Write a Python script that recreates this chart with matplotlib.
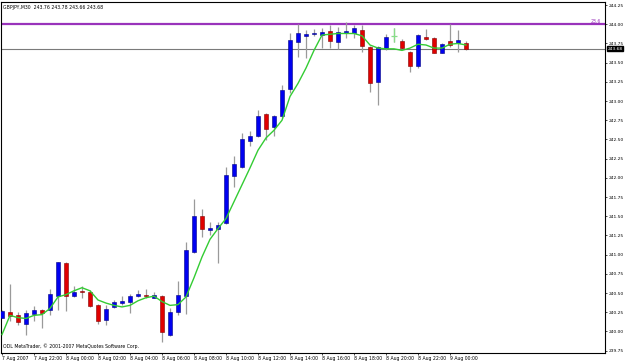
import matplotlib
matplotlib.use("Agg")
from matplotlib import pyplot as plt
from matplotlib.transforms import blended_transform_factory

# GBPJPY M30, 7 Aug 2007 20:00 onwards (one bar every 30 min)
opens = [240.18, 240.26, 240.22, 240.10, 240.23, 240.28, 240.28, 240.46, 240.89, 240.46,
         240.53, 240.51, 240.35, 240.15, 240.32, 240.37, 240.39, 240.46, 240.48, 240.44,
         240.46, 239.96, 240.25, 240.46, 241.03, 241.51, 241.32, 241.34, 241.41, 242.03,
         242.14, 242.48, 242.55, 242.83, 242.66, 242.80, 243.16, 243.77, 243.85, 243.87,
         243.86, 243.91, 243.77, 243.88, 243.88, 243.93, 243.70, 243.25, 243.69, 243.85,
         243.78, 243.64, 243.46, 243.84, 243.82, 243.63, 243.78, 243.75, 243.76]
highs = [240.28, 240.62, 240.25, 240.28, 240.33, 240.29, 240.55, 240.91, 240.90, 240.59,
         240.59, 240.54, 240.36, 240.35, 240.41, 240.46, 240.49, 240.54, 240.55, 240.52,
         240.48, 240.31, 240.66, 241.16, 241.72, 241.59, 241.43, 241.43, 242.14, 242.28,
         242.59, 242.61, 242.89, 242.84, 242.82, 243.21, 243.88, 244.00, 243.92, 243.94,
         243.95, 243.99, 243.96, 244.03, 243.99, 243.99, 243.72, 243.72, 243.87, 243.95,
         243.81, 243.65, 243.87, 243.94, 243.83, 243.76, 244.01, 243.92, 243.78]
lows = [240.17, 240.14, 240.08, 239.96, 240.14, 240.04, 240.22, 240.28, 240.27, 240.45,
        240.43, 240.32, 240.10, 240.09, 240.30, 240.34, 240.24, 240.45, 240.44, 240.43,
        239.86, 239.94, 240.22, 240.23, 241.02, 241.23, 241.25, 240.89, 241.40, 241.88,
        242.13, 242.41, 242.53, 242.49, 242.55, 242.78, 243.11, 243.57, 243.56, 243.85,
        243.69, 243.69, 243.68, 243.82, 243.82, 243.64, 243.12, 242.95, 243.66, 243.77,
        243.68, 243.38, 243.43, 243.79, 243.62, 243.62, 243.70, 243.64, 243.66]
closes = [240.27, 240.20, 240.13, 240.24, 240.28, 240.24, 240.49, 240.90, 240.46, 240.51,
          240.51, 240.33, 240.14, 240.29, 240.39, 240.40, 240.46, 240.49, 240.46, 240.48,
          239.99, 240.26, 240.48, 241.06, 241.51, 241.33, 241.35, 241.39, 242.04, 242.18,
          242.50, 242.54, 242.80, 242.64, 242.81, 243.14, 243.79, 243.88, 243.87, 243.88,
          243.90, 243.78, 243.90, 243.91, 243.95, 243.72, 243.24, 243.70, 243.83, 243.85,
          243.69, 243.46, 243.86, 243.81, 243.63, 243.74, 243.73, 243.79, 243.68]
# moving average as drawn on the chart
ma = [239.96, 240.21, 240.18, 240.17, 240.21, 240.22, 240.30, 240.45, 240.48, 240.53,
      240.57, 240.53, 240.41, 240.37, 240.34, 240.32, 240.34, 240.40, 240.44, 240.46,
      240.39, 240.34, 240.35, 240.45, 240.70, 240.97, 241.20, 241.34, 241.47, 241.69,
      241.91, 242.13, 242.36, 242.52, 242.62, 242.75, 243.06, 243.23, 243.43, 243.66,
      243.86, 243.87, 243.88, 243.88, 243.88, 243.85, 243.73, 243.69, 243.68, 243.68,
      243.66, 243.69, 243.74, 243.73, 243.69, 243.69, 243.74, 243.75, 243.73]

time_labels = ["7 Aug 2007", "7 Aug 22:00", "8 Aug 00:00", "8 Aug 02:00", "8 Aug 04:00",
               "8 Aug 06:00", "8 Aug 08:00", "8 Aug 10:00", "8 Aug 12:00", "8 Aug 14:00",
               "8 Aug 16:00", "8 Aug 18:00", "8 Aug 20:00", "8 Aug 22:00", "9 Aug 00:00"]
price_ticks = [239.75 + 0.25 * k for k in range(19)]
fib_level = 244.00
fib_text = "23.6"
bid = 243.68
title = "GBPJPY,M30  243.76 243.78 243.66 243.68"
footer = "ODL MetaTrader, \u00a9 2001-2007 MetaQuotes Software Corp."

UP, DOWN, WICK = "#0000f0", "#e00000", "#9a9a9a"

W, H = 625, 363
fig = plt.figure(figsize=(W / 100, H / 100), dpi=100, facecolor="white")
ax = fig.add_axes([1 / W, 10 / H, 604 / W, 351 / H])

n = len(closes)
xs = list(range(n))

ax.axhline(bid, color="#7a7a7a", lw=0.8, zorder=1)
ax.axhline(fib_level, color="#9933bb", lw=1.6, zorder=1)

ax.vlines(xs, lows, highs, color=WICK, lw=0.9, zorder=2)
for i in xs:
    o, c = opens[i], closes[i]
    if o == c:
        ax.vlines(i, lows[i], highs[i], color="#88dd88", lw=0.9, zorder=3)
        ax.hlines(c, i - 0.35, i + 0.35, color="#88dd88", lw=0.9, zorder=3)
        continue
    col = UP if c > o else DOWN
    edge = "#000080" if c > o else "#800000"
    ax.bar(i, abs(c - o), bottom=min(o, c), width=0.6, color=col,
           edgecolor=edge, lw=0.4, zorder=3)

ax.plot(xs, ma, color="#33cc33", lw=1.0, zorder=4)

ax.set_xlim(-0.125, 75.375)
ax.set_ylim(239.72, 244.29)

ax.yaxis.tick_right()
ax.set_yticks(price_ticks)
ax.set_yticklabels([f"{p:.2f}" for p in price_ticks])
ax.tick_params(axis="y", length=1.5, width=0.5, pad=1.0, labelsize=3.2)

ax.set_xticks(xs[::4])
ax.set_xticklabels(time_labels, ha="left")
ax.tick_params(axis="x", length=1.5, width=0.5, pad=1.0, labelsize=3.3)

for s in ax.spines.values():
    s.set_color("black")
    s.set_linewidth(0.8)

ax.text(0.004, 0.992, title, transform=ax.transAxes, fontsize=3.3,
        ha="left", va="top")
ax.text(0.004, 0.012, footer, transform=ax.transAxes, fontsize=3.3,
        ha="left", va="bottom")
ax.text(74.9, fib_level + 0.01, fib_text, fontsize=3.3, color="#9933bb",
        ha="right", va="bottom")

tr = blended_transform_factory(ax.transAxes, ax.transData)
ax.text(1.004, bid, f"{bid:.2f}", transform=tr, fontsize=3.2, color="white",
        ha="left", va="center", zorder=10,
        bbox=dict(boxstyle="square,pad=0.12", fc="black", ec="black"))

fig.savefig("out.png", dpi=100, facecolor="white")
